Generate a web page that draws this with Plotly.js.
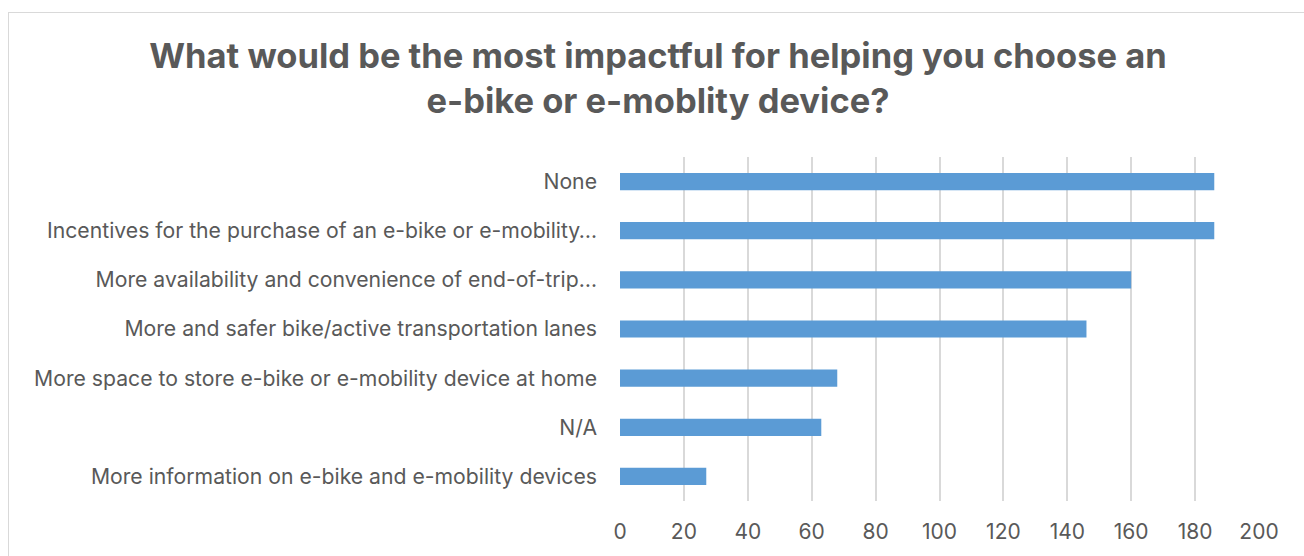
<!DOCTYPE html>
<html>
<head>
<meta charset="utf-8">
<script src="https://cdn.plot.ly/plotly-3.0.1.min.js"></script>
<style>
html,body{margin:0;padding:0;background:#fff;}
#wrap{position:relative;width:1304px;height:556px;overflow:hidden;}
#chart{position:absolute;left:0;top:0;width:1304px;height:556px;}
#border{position:absolute;left:8px;top:12px;width:1400px;height:700px;border:1.5px solid #d9d9d9;pointer-events:none;box-sizing:border-box;}
</style>
</head>
<body>
<div id="wrap"><div id="chart"></div><div id="border"></div></div>
<script>
const categories = [
  "None",
  "Incentives for the purchase of an e-bike or e-mobility…",
  "More availability and convenience of end-of-trip…",
  "More and safer bike/active transportation lanes",
  "More space to store e-bike or e-mobility device at home",
  "N/A",
  "More information on e-bike and e-mobility devices"
];
const counts = [186, 186, 160, 146, 68, 63, 27];
const xTicks = [0, 20, 40, 60, 80, 100, 120, 140, 160, 180, 200];
const titleText = "What would be the most impactful for helping you choose an<br>e-bike or e-moblity device?";

const fontFam = "Inter, 'Open Sans', 'Liberation Sans', sans-serif";

const trace = {
  type: "bar",
  orientation: "h",
  x: counts,
  y: categories,
  marker: {color: "#5b9bd5", line: {width: 0}},
  width: 0.35,
  hoverinfo: "x+y"
};

const layout = {
  width: 1304,
  height: 556,
  paper_bgcolor: "rgba(0,0,0,0)",
  plot_bgcolor: "rgba(0,0,0,0)",
  margin: {l: 620, r: 45, t: 157, b: 55},
  showlegend: false,
  title: {
    text: titleText,
    font: {family: fontFam, size: 34.5, color: "#595959", weight: "bold"},
    xref: "container", x: 0.5046, xanchor: "center",
    yref: "container", y: 0.877, yanchor: "middle"
  },
  xaxis: {
    range: [0, 200],
    tickvals: xTicks,
    ticktext: xTicks.map(String),
    showgrid: true,
    gridcolor: "#d9d9d9",
    gridwidth: 2,
    zeroline: false,
    showline: false,
    ticks: "",
    ticklabelstandoff: 16,
    tickfont: {family: fontFam, size: 21, color: "#595959"},
    fixedrange: true
  },
  yaxis: {
    autorange: "reversed",
    showgrid: false,
    zeroline: false,
    showline: false,
    ticks: "",
    ticklabelstandoff: 22,
    tickfont: {family: fontFam, size: 21.2, color: "#595959"},
    fixedrange: true
  }
};

Plotly.newPlot("chart", [trace], layout, {displayModeBar: false, staticPlot: true});
</script>
</body>
</html>
